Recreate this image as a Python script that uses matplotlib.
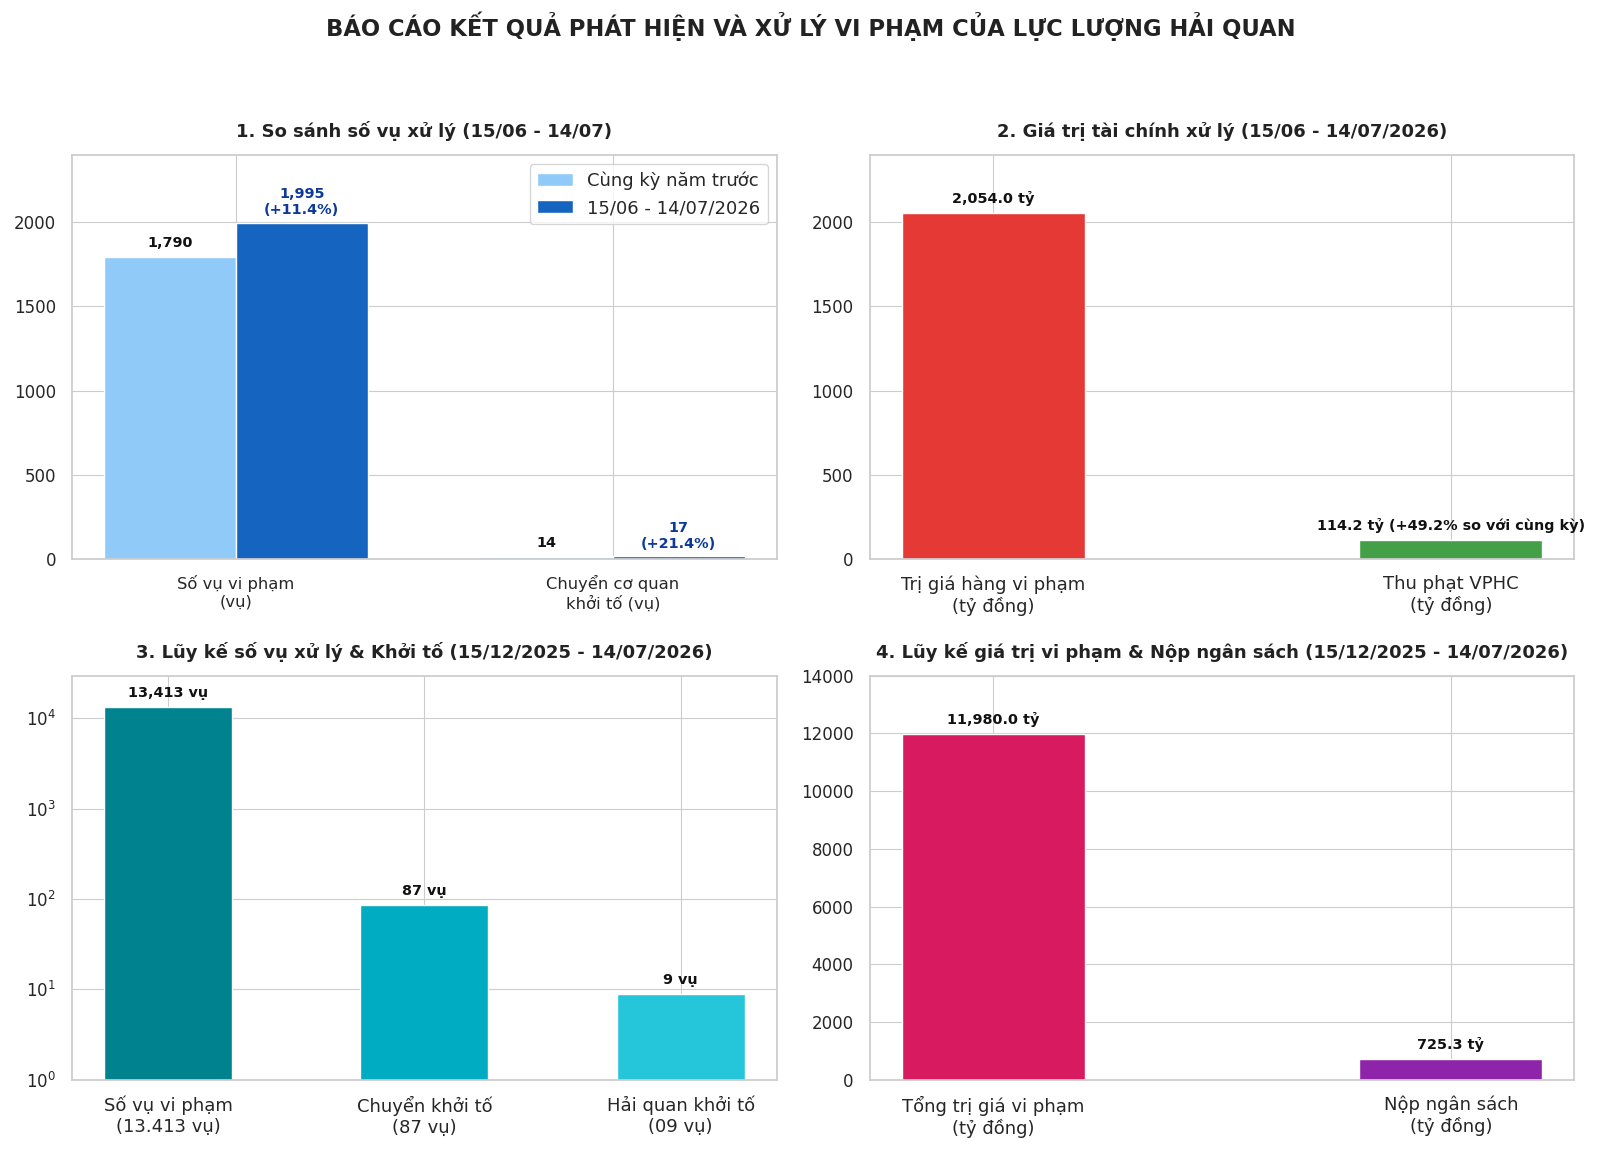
import matplotlib
matplotlib.use("Agg")
import matplotlib.pyplot as plt
import seaborn as sns
import numpy as np

# ---------------- data ----------------
suptitle = "BÁO CÁO KẾT QUẢ PHÁT HIỆN VÀ XỬ LÝ VI PHẠM CỦA LỰC LƯỢNG HẢI QUAN"

c1_categories = ["Số vụ vi phạm\n(vụ)", "Chuyển cơ quan\nkhởi tố (vụ)"]
c1_prev = [1790, 14]
c1_curr = [1995, 17]
c1_change = ["+11.4%", "+21.4%"]
c1_series = ["Cùng kỳ năm trước", "15/06 - 14/07/2026"]

c2_categories = ["Trị giá hàng vi phạm\n(tỷ đồng)", "Thu phạt VPHC\n(tỷ đồng)"]
c2_values = [2054.0, 114.2]
c2_suffix = ["", " (+49.2% so với cùng kỳ)"]

c3_categories = ["Số vụ vi phạm\n(13.413 vụ)", "Chuyển khởi tố\n(87 vụ)", "Hải quan khởi tố\n(09 vụ)"]
c3_values = [13413, 87, 9]

c4_categories = ["Tổng trị giá vi phạm\n(tỷ đồng)", "Nộp ngân sách\n(tỷ đồng)"]
c4_values = [11980.0, 725.3]

# ---------------- style ----------------
sns.set_style("whitegrid")
plt.rcParams["font.family"] = ["DejaVu Sans"]
plt.rcParams["axes.edgecolor"] = "#cccccc"
plt.rcParams["axes.linewidth"] = 1.25
plt.rcParams["grid.color"] = "#cccccc"

fig, axes = plt.subplots(2, 2, figsize=(16, 11.5), dpi=100)
fig.subplots_adjust(left=0.045, right=0.984, top=0.865, bottom=0.061,
                    wspace=0.132, hspace=0.288)
fig.suptitle(suptitle, fontsize=16.3, fontweight="bold", x=0.507, y=0.977, va="center",
             color="#222222")

title_kw = dict(fontsize=13, fontweight="bold", pad=13, color="#222222")
ann_kw = dict(textcoords="offset points", ha="center", va="bottom",
              fontsize=10.4, fontweight="bold")


def style_ticks(ax):
    ax.tick_params(axis="y", labelsize=12, pad=8)
    ax.tick_params(axis="x", pad=8)


# ---- chart 1 ----
ax = axes[0, 0]
x = np.arange(len(c1_categories))
w = 0.35
b1 = ax.bar(x - w / 2, c1_prev, w, color="#90CAF9", label=c1_series[0], edgecolor="white")
b2 = ax.bar(x + w / 2, c1_curr, w, color="#1565C0", label=c1_series[1], edgecolor="white")
for rect, v in zip(b1, c1_prev):
    ax.annotate(f"{v:,}", (rect.get_x() + rect.get_width() / 2, v), xytext=(0, 5),
                color="#111111", **ann_kw)
for rect, v, ch in zip(b2, c1_curr, c1_change):
    ax.annotate(f"{v:,}\n({ch})", (rect.get_x() + rect.get_width() / 2, v), xytext=(0, 4),
                color="#0D3A9A", linespacing=1.15, **ann_kw)
ax.set_xticks(x)
ax.set_xticklabels(c1_categories, fontsize=11.8)
ax.set_ylim(0, max(c1_curr) * 1.2)
style_ticks(ax)
ax.set_title("1. So sánh số vụ xử lý (15/06 - 14/07)", **title_kw)
ax.legend(loc="upper right", fontsize=13, frameon=True)

# ---- chart 2 ----
ax = axes[0, 1]
x = np.arange(len(c2_categories))
bars = ax.bar(x, c2_values, 0.4, color=["#E53935", "#43A047"], edgecolor="white")
for rect, v, s in zip(bars, c2_values, c2_suffix):
    ax.annotate(f"{v:,.1f} tỷ{s}", (rect.get_x() + rect.get_width() / 2, v), xytext=(0, 5),
                color="#111111", **ann_kw)
ax.set_xticks(x)
ax.set_xticklabels(c2_categories, fontsize=13)
ax.set_ylim(0, max(c1_curr) * 1.2)
style_ticks(ax)
ax.set_title("2. Giá trị tài chính xử lý (15/06 - 14/07/2026)", **title_kw)

# ---- chart 3 ----
ax = axes[1, 0]
x = np.arange(len(c3_categories))
bars = ax.bar(x, c3_values, 0.5, color=["#00838F", "#00ACC1", "#26C6DA"], edgecolor="white")
ax.set_yscale("log")
for rect, v in zip(bars, c3_values):
    ax.annotate(f"{v:,} vụ", (rect.get_x() + rect.get_width() / 2, v), xytext=(0, 5),
                color="#111111", **ann_kw)
ax.set_xticks(x)
ax.set_xticklabels(c3_categories, fontsize=13)
ax.set_ylim(1, 29500)
style_ticks(ax)
ax.minorticks_off()
ax.set_title("3. Lũy kế số vụ xử lý & Khởi tố (15/12/2025 - 14/07/2026)", **title_kw)

# ---- chart 4 ----
ax = axes[1, 1]
x = np.arange(len(c4_categories))
bars = ax.bar(x, c4_values, 0.4, color=["#D81B60", "#8E24AA"], edgecolor="white")
for rect, v in zip(bars, c4_values):
    ax.annotate(f"{v:,.1f} tỷ", (rect.get_x() + rect.get_width() / 2, v), xytext=(0, 5),
                color="#111111", **ann_kw)
ax.set_xticks(x)
ax.set_xticklabels(c4_categories, fontsize=13)
ax.set_ylim(0, 14000)
style_ticks(ax)
ax.set_title("4. Lũy kế giá trị vi phạm & Nộp ngân sách (15/12/2025 - 14/07/2026)", **title_kw)

fig.savefig("out.png", dpi=100)
